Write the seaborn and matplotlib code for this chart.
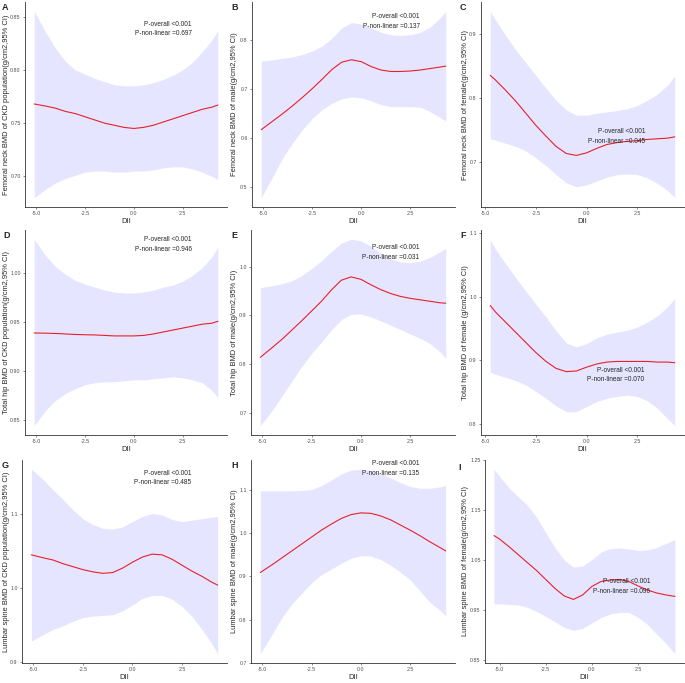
import numpy as np
import pandas as pd
import matplotlib
matplotlib.use("Agg")
import matplotlib.pyplot as plt
import seaborn as sns

sns.set_style("ticks")
plt.rcParams['font.family'] = ['Liberation Sans', 'DejaVu Sans']

# ---------------- data ----------------
X_ALL = [-5.1, -4.5, -4.0, -3.5, -3.0, -2.5, -2.0, -1.5, -1.0, -0.5, 0.0,
         0.5, 1.0, 1.5, 2.0, 2.5, 3.0, 3.5, 4.0, 4.3]
X_FEM = [-4.75, -4.5, -4.0, -3.5, -3.0, -2.5, -2.0, -1.5, -1.0, -0.5, 0.0,
         0.5, 1.0, 1.5, 2.0, 2.5, 3.0, 3.5, 4.0, 4.35]
X_FEM_LS = [-5.3, -5.0, -4.5, -4.0, -3.5, -3.0, -2.5, -2.0, -1.5, -1.0, -0.5,
            0.0, 0.5, 1.0, 1.5, 2.0, 2.5, 3.0, 3.5, 4.0, 4.5]

# A: femoral neck, CKD population
a_fit = [0.768, 0.766, 0.764, 0.761, 0.759, 0.756, 0.753, 0.750, 0.748, 0.746, 0.745,
         0.746, 0.748, 0.751, 0.754, 0.757, 0.760, 0.763, 0.765, 0.767]
a_low = [0.680, 0.688, 0.694, 0.698, 0.701, 0.704, 0.705, 0.705, 0.704, 0.704, 0.705,
         0.705, 0.706, 0.708, 0.709, 0.709, 0.707, 0.704, 0.700, 0.697]
a_up = [0.855, 0.835, 0.820, 0.808, 0.800, 0.796, 0.792, 0.789, 0.786, 0.785, 0.785,
        0.786, 0.788, 0.791, 0.795, 0.800, 0.807, 0.817, 0.828, 0.837]

# B: femoral neck, male
b_fit = [0.617, 0.635, 0.650, 0.666, 0.683, 0.701, 0.720, 0.740, 0.755, 0.760, 0.756,
         0.746, 0.739, 0.736, 0.736, 0.737, 0.739, 0.742, 0.745, 0.747]
b_low = [0.478, 0.522, 0.560, 0.590, 0.617, 0.640, 0.658, 0.671, 0.680, 0.684, 0.682,
         0.676, 0.668, 0.664, 0.664, 0.664, 0.663, 0.654, 0.642, 0.635]
b_up = [0.757, 0.760, 0.763, 0.766, 0.771, 0.778, 0.788, 0.804, 0.825, 0.836, 0.833,
        0.825, 0.816, 0.811, 0.810, 0.811, 0.816, 0.827, 0.845, 0.859]

# C: femoral neck, female
c_fit = [0.835, 0.828, 0.812, 0.795, 0.776, 0.757, 0.740, 0.724, 0.713, 0.710, 0.714,
         0.721, 0.727, 0.730, 0.732, 0.733, 0.735, 0.736, 0.737, 0.739]
c_low = [0.736, 0.734, 0.729, 0.724, 0.717, 0.706, 0.694, 0.680, 0.667, 0.661, 0.664,
         0.670, 0.676, 0.680, 0.681, 0.680, 0.675, 0.666, 0.655, 0.644]
c_up = [0.935, 0.922, 0.898, 0.875, 0.855, 0.835, 0.815, 0.796, 0.781, 0.773, 0.773,
        0.776, 0.778, 0.780, 0.783, 0.788, 0.796, 0.806, 0.820, 0.834]

# D: total hip, CKD population
d_fit = [0.939, 0.9388, 0.9385, 0.938, 0.9375, 0.9372, 0.937, 0.9365, 0.936, 0.936, 0.936,
         0.9365, 0.938, 0.940, 0.942, 0.944, 0.946, 0.948, 0.949, 0.951]
d_low = [0.844, 0.860, 0.870, 0.877, 0.882, 0.886, 0.888, 0.889, 0.889, 0.890, 0.891,
         0.891, 0.892, 0.893, 0.894, 0.893, 0.891, 0.888, 0.880, 0.873]
d_up = [1.035, 1.018, 1.007, 0.999, 0.993, 0.989, 0.986, 0.983, 0.981, 0.980, 0.980,
        0.981, 0.983, 0.986, 0.988, 0.992, 0.998, 1.006, 1.017, 1.027]

# E: total hip, male
e_fit = [0.814, 0.834, 0.851, 0.870, 0.889, 0.909, 0.929, 0.952, 0.972, 0.979, 0.974,
         0.963, 0.953, 0.945, 0.939, 0.935, 0.932, 0.929, 0.926, 0.925]
e_low = [0.674, 0.705, 0.735, 0.765, 0.795, 0.822, 0.845, 0.870, 0.891, 0.902, 0.903,
         0.897, 0.889, 0.880, 0.871, 0.862, 0.853, 0.842, 0.826, 0.812]
e_up = [0.957, 0.961, 0.965, 0.971, 0.982, 0.996, 1.012, 1.031, 1.048, 1.056, 1.053,
        1.042, 1.028, 1.016, 1.010, 1.008, 1.011, 1.019, 1.030, 1.038]

# F: total hip, female
f_fit = [0.986, 0.976, 0.960, 0.944, 0.928, 0.912, 0.898, 0.887, 0.882, 0.883, 0.889,
         0.894, 0.897, 0.898, 0.898, 0.898, 0.898, 0.897, 0.897, 0.896]
f_low = [0.881, 0.878, 0.873, 0.868, 0.861, 0.851, 0.840, 0.828, 0.819, 0.819, 0.827,
         0.835, 0.840, 0.843, 0.845, 0.843, 0.836, 0.824, 0.808, 0.797]
f_up = [1.090, 1.075, 1.052, 1.030, 1.009, 0.988, 0.968, 0.946, 0.927, 0.921, 0.926,
        0.935, 0.941, 0.944, 0.947, 0.952, 0.960, 0.970, 0.984, 0.997]

# G: lumbar spine, CKD population
g_fit = [1.045, 1.041, 1.038, 1.033, 1.029, 1.025, 1.022, 1.020, 1.021, 1.027, 1.035,
         1.042, 1.046, 1.045, 1.039, 1.031, 1.023, 1.016, 1.008, 1.004]
g_low = [0.928, 0.937, 0.944, 0.949, 0.955, 0.960, 0.962, 0.963, 0.964, 0.969, 0.977,
         0.986, 0.990, 0.990, 0.985, 0.975, 0.962, 0.944, 0.925, 0.911]
g_up = [1.161, 1.147, 1.133, 1.120, 1.106, 1.094, 1.086, 1.081, 1.080, 1.083, 1.090,
        1.097, 1.101, 1.099, 1.093, 1.090, 1.092, 1.094, 1.096, 1.097]

# H: lumbar spine, male
h_fit = [0.909, 0.927, 0.943, 0.959, 0.975, 0.991, 1.007, 1.021, 1.034, 1.043, 1.047,
         1.046, 1.040, 1.031, 1.019, 1.007, 0.994, 0.980, 0.967, 0.959]
h_low = [0.721, 0.766, 0.805, 0.836, 0.861, 0.885, 0.904, 0.917, 0.930, 0.942, 0.948,
         0.947, 0.939, 0.926, 0.910, 0.892, 0.866, 0.840, 0.822, 0.809]
h_up = [1.098, 1.098, 1.098, 1.098, 1.099, 1.101, 1.110, 1.123, 1.137, 1.146, 1.148,
        1.145, 1.138, 1.128, 1.117, 1.108, 1.104, 1.104, 1.107, 1.110]

# I: lumbar spine, female
i_fit = [1.099, 1.092, 1.077, 1.061, 1.045, 1.029, 1.011, 0.993, 0.978, 0.971, 0.980,
         0.997, 1.007, 1.010, 1.011, 1.007, 0.998, 0.990, 0.984, 0.980, 0.977]
i_low = [0.962, 0.962, 0.961, 0.960, 0.955, 0.947, 0.937, 0.926, 0.915, 0.909, 0.913,
         0.924, 0.935, 0.942, 0.945, 0.945, 0.935, 0.921, 0.902, 0.883, 0.862]
i_up = [1.232, 1.218, 1.195, 1.177, 1.160, 1.136, 1.105, 1.075, 1.050, 1.036, 1.038,
        1.051, 1.066, 1.073, 1.074, 1.072, 1.069, 1.070, 1.075, 1.083, 1.091]

letters = ["A", "B", "C", "D", "E", "F", "G", "H", "I"]
ylabels = [
    "Femoral neck BMD of CKD population(g/cm2,95% CI)",
    "Femoral neck BMD of male(g/cm2,95% CI)",
    "Femoral neck BMD of female(g/cm2,95% CI)",
    "Total hip BMD of CKD population(g/cm2,95% CI)",
    "Total hip BMD of male(g/cm2,95% CI)",
    "Total hip BMD of female (g/cm2,95% CI)",
    "Lumbar spine BMD of CKD population(g/cm2,95% CI)",
    "Lumbar spine BMD of male(g/cm2,95% CI)",
    "Lumbar spine BMD of female(g/cm2,95% CI)",
]
p_overall = ["<0.001"] * 9
p_nonlin = ["0.697", "0.137", "0.045", "0.946", "0.031", "0.070", "0.485", "0.135", "0.096"]
yticks = [
    [0.70, 0.75, 0.80, 0.85],
    [0.5, 0.6, 0.7, 0.8],
    [0.7, 0.8, 0.9],
    [0.85, 0.90, 0.95, 1.00],
    [0.7, 0.8, 0.9, 1.0],
    [0.8, 0.9, 1.0, 1.1],
    [0.9, 1.0, 1.1],
    [0.7, 0.8, 0.9, 1.0, 1.1],
    [0.85, 0.95, 1.05, 1.15, 1.25],
]
ytick_fmt = ["%.2f", "%.1f", "%.1f", "%.2f", "%.1f", "%.1f", "%.1f", "%.1f", "%.2f"]
xticks = [-5.0, -2.5, 0.0, 2.5]

series = [
    (X_ALL, a_fit, a_low, a_up), (X_ALL, b_fit, b_low, b_up), (X_FEM, c_fit, c_low, c_up),
    (X_ALL, d_fit, d_low, d_up), (X_ALL, e_fit, e_low, e_up), (X_FEM, f_fit, f_low, f_up),
    (X_ALL, g_fit, g_low, g_up), (X_ALL, h_fit, h_low, h_up), (X_FEM_LS, i_fit, i_low, i_up),
]

# ---------------- layout (pixels) ----------------
W, H = 685, 683
boxes = [  # left, top, right, bottom
    (25, 2, 227, 207), (252, 2, 455, 207), (481, 2, 684, 207),
    (25, 230, 227, 435), (251, 230, 455, 435), (481, 230, 684, 435),
    (22, 460, 227, 663), (251, 460, 455, 663), (485, 460, 684, 663),
]
# right edge (pixels) of the rotated y label
ylab_right = [10, 238, 469, 10, 238, 469, 10, 238, 469]
letter_pos = [(2, 8), (231, 8), (460, 8), (3, 235), (231, 235), (460, 235),
              (2, 466), (231, 466), (458, 468)]
# annotation anchors (data coords, right aligned)
ann = [(2.97, 0.843, 0.834), (2.97, 0.848, 0.827), (2.9, 0.747, 0.731),
       (2.97, 1.035, 1.025), (2.95, 1.039, 1.018), (2.85, 0.884, 0.869),
       (2.96, 1.155, 1.143), (2.97, 1.161, 1.138), (3.16, 1.007, 0.987)]

fig = plt.figure(figsize=(W / 100, H / 100), dpi=100)
fig.patch.set_facecolor("white")

for k in range(9):
    l, t, r, b = boxes[k]
    ax = fig.add_axes([l / W, 1 - b / H, (r - l) / W, (b - t) / H])
    x, fit, low, up = series[k]
    df = pd.DataFrame({"DII": x, "BMD": fit})
    ax.fill_between(x, low, up, color="#0000FF", alpha=0.1, linewidth=0)
    sns.lineplot(data=df, x="DII", y="BMD", ax=ax, color="#E8202A", linewidth=0.8)
    ax.margins(x=0.05, y=0.05)
    ax.set_xticks(xticks)
    ax.set_xticklabels(["%.1f" % v for v in xticks])
    ax.set_yticks(yticks[k])
    ax.set_yticklabels([ytick_fmt[k] % v for v in yticks[k]])
    ax.tick_params(axis="both", labelsize=3.8, labelcolor="#4D4D4D", length=1.6,
                   width=0.4, color="#333333", pad=1.5)
    sns.despine(ax=ax)
    for s in ("left", "bottom"):
        ax.spines[s].set_linewidth(0.6)
        ax.spines[s].set_color("#333333")
    ax.set_xlabel("DII", fontsize=5.5, labelpad=1.5)
    ax.set_ylabel(ylabels[k], fontsize=5.4)
    ax.yaxis.set_label_coords((ylab_right[k] - l) / (r - l), 0.5)
    ax.grid(False)
    xa, y1, y2 = ann[k]
    ax.text(xa, y1, "P-overall " + p_overall[k], ha="right", va="center", fontsize=4.7)
    ax.text(xa, y2, "P-non-linear =" + p_nonlin[k], ha="right", va="center", fontsize=4.7)
    lx, ly = letter_pos[k]
    fig.text(lx / W, 1 - ly / H, letters[k], fontsize=6.5, fontweight="bold",
             ha="left", va="center")

fig.savefig("out.png", dpi=100, facecolor="white")
